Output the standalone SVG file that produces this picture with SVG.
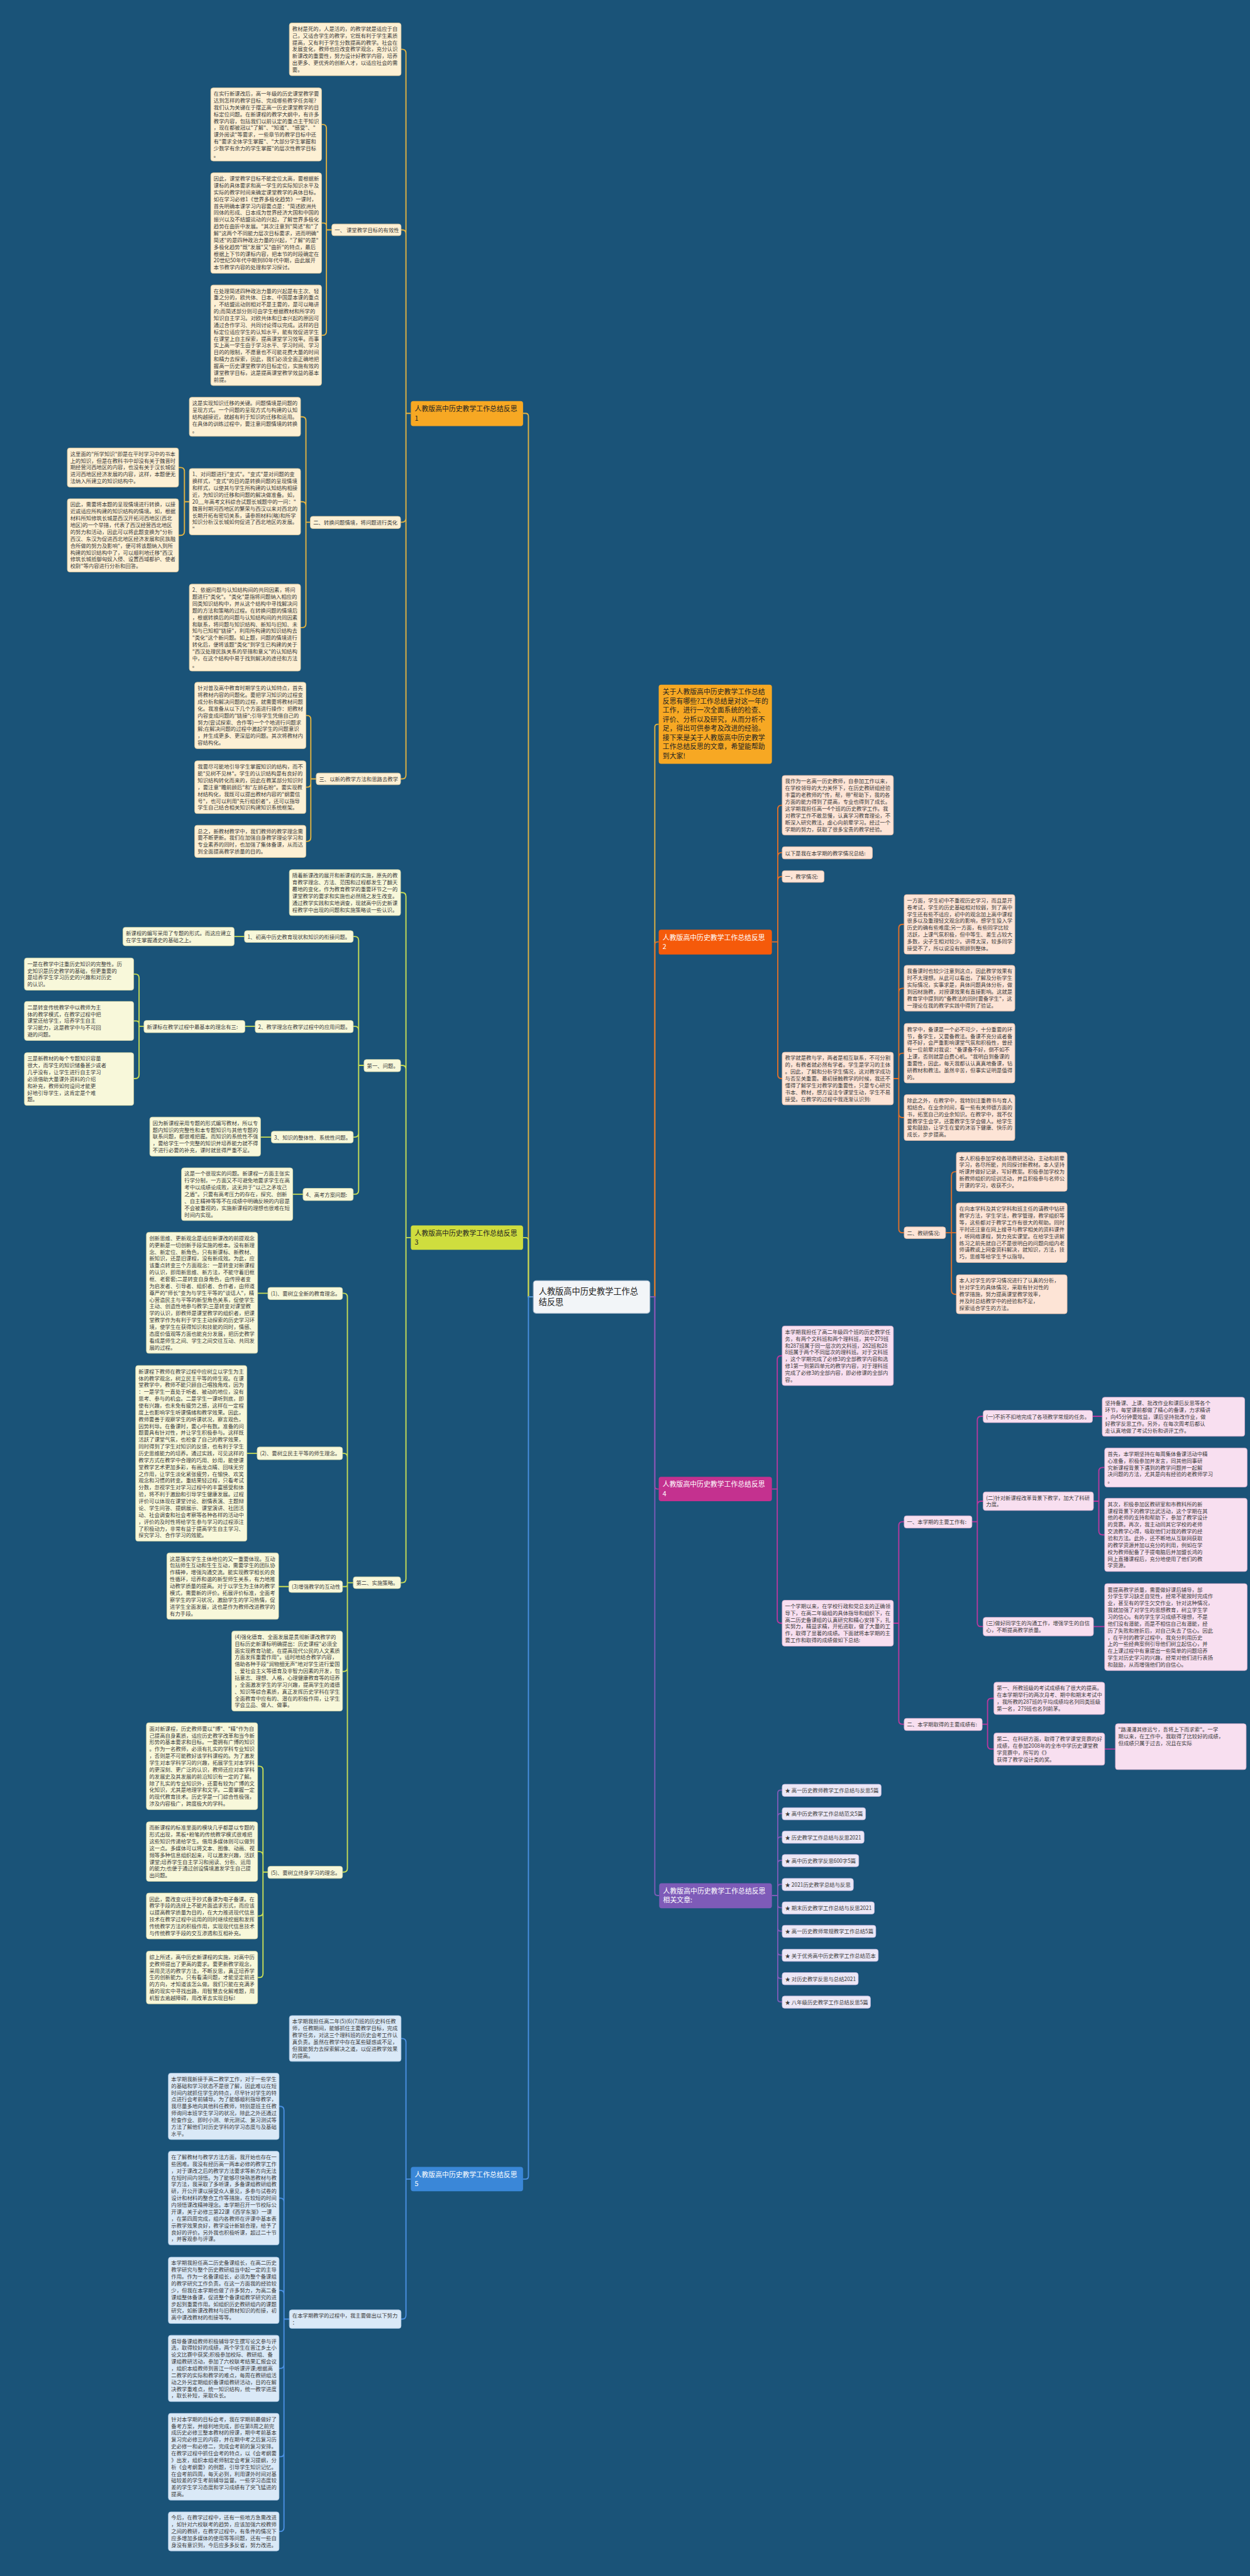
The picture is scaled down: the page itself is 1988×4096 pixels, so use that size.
<svg xmlns="http://www.w3.org/2000/svg" width="1988" height="4096" viewBox="0 0 1988 4096">
<style>
.t{font-family:"Noto Sans CJK SC","Noto Sans",sans-serif;font-size:10.8px;fill:#3a3a3a}
.tm{font-family:"Noto Sans CJK SC","Noto Sans",sans-serif;font-size:14px;fill:#222}
.tw{fill:#fff}
.c1{fill:#fdf0d4;stroke:#e2c99a;stroke-width:1}
.c2{fill:#fde4d6;stroke:#e6bba4;stroke-width:1}
.c3{fill:#f8f8da;stroke:#d8d8a8;stroke-width:1}
.c4{fill:#f8dff0;stroke:#ddb0cf;stroke-width:1}
.c5{fill:#dae9f7;stroke:#a9c6e2;stroke-width:1}
.c6{fill:#ece7f6;stroke:#c2b6de;stroke-width:1}
.k{fill:none;stroke-width:2.4}
.k1{stroke:#e3b341}.k2{stroke:#e0702a}.k3{stroke:#c9de55}.k4{stroke:#b8399e}.k5{stroke:#4a90e2}.k6{stroke:#7e5cb8}
</style>
<rect width="1988" height="4096" fill="#1a5378"/>
<g transform="scale(0.776)">
<g id="connectors">
<path class="k k1" d="M1093 2657H1083V853Q1083 847 1077 847H1072"/>
<path class="k k3" d="M1093 2657H1083V2542Q1083 2536 1077 2536H1072"/>
<path class="k k5" d="M1093 2657H1083V4459Q1083 4465 1077 4465H1072"/>
<path class="k k1" d="M1332 2657H1342V1490Q1342 1484 1348 1484H1350"/>
<path class="k k2" d="M1332 2657H1342V1936Q1342 1930 1348 1930H1350"/>
<path class="k k4" d="M1332 2657H1342V3045Q1342 3051 1348 3051H1350"/>
<path class="k k6" d="M1332 2657H1342V3878Q1342 3884 1348 3884H1351"/>
<path class="k k1" d="M842 847H832V109Q832 101 824 101H822M842 847H832V479Q832 471 824 471H822M842 847H832V1062Q832 1070 824 1070H821M842 847H832V1588Q832 1596 824 1596H821"/>
<path class="k k1" d="M680 471H669V263Q669 255 661 255H659M680 471H669V463Q669 457 663 457H659M680 471H669V679Q669 687 661 687H659"/>
<path class="k k1" d="M636 1070H627V862Q627 854 619 854H616M636 1070H627V1036Q627 1028 619 1028H616M636 1070H627V1278Q627 1286 619 1286H616"/>
<path class="k k1" d="M388 1028H378V966Q378 958 370 958H366M388 1028H378V1089Q378 1097 370 1097H366"/>
<path class="k k1" d="M648 1596H637V1474Q637 1466 629 1466H627M648 1596H637V1605Q637 1613 629 1613H627M648 1596H637V1716Q637 1724 629 1724H627"/>
<path class="k k3" d="M842 2536H832V1837Q832 1829 824 1829H821M842 2536H832V2191Q832 2183 824 2183H821M842 2536H832V3235Q832 3243 824 3243H821"/>
<path class="k k3" d="M746 2183H735V1927Q735 1919 727 1919H724M746 2183H735V2111Q735 2103 727 2103H724M746 2183H735V2322Q735 2330 727 2330H724M746 2183H735V2439Q735 2447 727 2447H724"/>
<path class="k k3" d="M501 1919H480M523 2103H502M556 2330H534M621 2447H600"/>
<path class="k k3" d="M295 2103H285V2004Q285 1996 277 1996H274M295 2103H285V2098Q285 2092 279 2092H274M295 2103H285V2202Q285 2210 277 2210H274"/>
<path class="k k3" d="M724 3243H712V2658Q712 2650 704 2650H702M724 3243H712V2986Q712 2978 704 2978H702M724 3243H712V3247Q712 3251 708 3251H702M724 3243H712V3417Q712 3425 704 3425H702M724 3243H712V3828Q712 3836 704 3836H702"/>
<path class="k k3" d="M549 2650H528M527 2978H506M592 3251H571"/>
<path class="k k3" d="M549 3836H539V3627Q539 3619 531 3619H528M549 3836H539V3802Q539 3794 531 3794H528M549 3836H539V3918Q539 3926 531 3926H528M549 3836H539V4044Q539 4052 531 4052H528"/>
<path class="k k5" d="M842 4465H832V4185Q832 4177 824 4177H822M842 4465H832V4744Q832 4752 824 4752H822"/>
<path class="k k5" d="M593 4752H582V4324Q582 4316 574 4316H572M593 4752H582V4512Q582 4504 574 4504H572M593 4752H582V4701Q582 4693 574 4693H572M593 4752H582V4845Q582 4853 574 4853H572M593 4752H582V5026Q582 5034 574 5034H572M593 4752H582V5179Q582 5187 574 5187H572"/>
<path class="k k2" d="M1582 1930H1594V1658Q1594 1650 1602 1650H1603M1582 1930H1594V1755Q1594 1747 1602 1747H1603M1582 1930H1594V1804Q1594 1796 1602 1796H1603M1582 1930H1594V2202Q1594 2210 1602 2210H1603"/>
<path class="k k2" d="M1831 2210H1842V1902Q1842 1894 1850 1894H1853M1831 2210H1842V2033Q1842 2025 1850 2025H1853M1831 2210H1842V2166Q1842 2158 1850 2158H1853M1831 2210H1842V2282Q1842 2290 1850 2290H1853M1831 2210H1842V2518Q1842 2526 1850 2526H1853"/>
<path class="k k2" d="M1938 2526H1950V2409Q1950 2401 1958 2401H1960M1938 2526H1960M1938 2526H1950V2644Q1950 2652 1958 2652H1960"/>
<path class="k k4" d="M1582 3051H1593V2786Q1593 2778 1601 2778H1603M1582 3051H1593V3318Q1593 3326 1601 3326H1603"/>
<path class="k k4" d="M1831 3326H1842V3126Q1842 3118 1850 3118H1853M1831 3326H1842V3525Q1842 3533 1850 3533H1853"/>
<path class="k k4" d="M1992 3118H2003V2910Q2003 2902 2011 2902H2015M1992 3118H2003V3084Q2003 3076 2011 3076H2015M1992 3118H2003V3325Q2003 3333 2011 3333H2015"/>
<path class="k k4" d="M2239 2902H2259M2241 3076H2252V3015Q2252 3007 2260 3007H2264M2241 3076H2252V3137Q2252 3145 2260 3145H2264M2241 3333H2264"/>
<path class="k k4" d="M2013 3533H2024V3488Q2024 3480 2032 3480H2037M2013 3533H2024V3576Q2024 3584 2032 3584H2037M2264 3584H2286"/>
<path class="k k6" d="M1582 3884H1594V3674Q1594 3668 1600 3668H1603M1582 3884H1594V3722Q1594 3716 1600 3716H1603M1582 3884H1594V3770Q1594 3764 1600 3764H1603M1582 3884H1594V3818Q1594 3812 1600 3812H1603M1582 3884H1594V3867Q1594 3861 1600 3861H1603M1582 3884H1594V3903Q1594 3909 1600 3909H1603M1582 3884H1594V3951Q1594 3957 1600 3957H1603M1582 3884H1594V4000Q1594 4006 1600 4006H1603M1582 3884H1594V4048Q1594 4054 1600 4054H1603M1582 3884H1594V4096Q1594 4102 1600 4102H1603"/>
</g>

<g id="center"><rect x="1093" y="2624" width="239" height="67" rx="6" fill="#f2f5f8" stroke="#9fb3c6" stroke-width="1.5"/><text class="tm" style="font-size:17px" x="1104" y="2652"><tspan x="1104">人教版高中历史教学工作总</tspan><tspan x="1104" dy="22">结反思</tspan></text></g>

<g id="fw1"><rect x="842" y="822" width="230" height="51" rx="5" fill="#f7a823"/><text class="tm" x="850" y="843"><tspan x="850">人教版高中历史教学工作总结反思</tspan><tspan x="850" dy="18.5">1</tspan></text></g>
<g id="fw3"><rect x="842" y="2511" width="230" height="50" rx="5" fill="#cfdd3e"/><text class="tm" x="850" y="2532"><tspan x="850">人教版高中历史教学工作总结反思</tspan><tspan x="850" dy="18.5">3</tspan></text></g>
<g id="fw5"><rect x="842" y="4440" width="230" height="50" rx="5" fill="#3a87d8"/><text class="tm tw" x="850" y="4461"><tspan x="850">人教版高中历史教学工作总结反思</tspan><tspan x="850" dy="18.5">5</tspan></text></g>
<g id="intro"><rect x="1350" y="1403" width="232" height="162" rx="5" fill="#f7a823"/><text class="tm" x="1358" y="1423"><tspan x="1358">关于人教版高中历史教学工作总结</tspan><tspan x="1358" dy="18.7">反思有哪些?工作总结是对这一年的</tspan><tspan x="1358" dy="18.7">工作，进行一次全面系统的检查、</tspan><tspan x="1358" dy="18.7">评价、分析以及研究，从而分析不</tspan><tspan x="1358" dy="18.7">足，得出可供参考及改进的经验。</tspan><tspan x="1358" dy="18.7">接下来是关于人教版高中历史教学</tspan><tspan x="1358" dy="18.7">工作总结反思的文章，希望能帮助</tspan><tspan x="1358" dy="18.7">到大家!</tspan></text></g>
<g id="fw2"><rect x="1350" y="1905" width="232" height="51" rx="5" fill="#f55a0a"/><text class="tm tw" x="1358" y="1926"><tspan x="1358">人教版高中历史教学工作总结反思</tspan><tspan x="1358" dy="18.5">2</tspan></text></g>
<g id="fw4"><rect x="1350" y="3026" width="232" height="50" rx="5" fill="#c4318f"/><text class="tm tw" x="1358" y="3047"><tspan x="1358">人教版高中历史教学工作总结反思</tspan><tspan x="1358" dy="18.5">4</tspan></text></g>
<g id="rel"><rect x="1351" y="3859" width="231" height="51" rx="5" fill="#7e5bb8"/><text class="tm tw" x="1359" y="3880"><tspan x="1359">人教版高中历史教学工作总结反思</tspan><tspan x="1359" dy="18.5">相关文章:</tspan></text></g>

<g id="a1"><rect class="c1" x="593" y="47" width="229" height="108" rx="5"/><text class="t" x="599" y="63"><tspan x="599">教材是死的，人是活的，的教学就是适应于自</tspan><tspan x="599" dy="14">己，又适合学生的教学，它既有利于学生素质</tspan><tspan x="599" dy="14">提高，又有利于学生分数提高的教学。社会在</tspan><tspan x="599" dy="14">发展变化，教师也应改变教学观念，充分认识</tspan><tspan x="599" dy="14">新课改的重要性，努力设计好教学内容，培养</tspan><tspan x="599" dy="14">出更多、更优秀的创新人才，以适应社会的需</tspan><tspan x="599" dy="14">要。</tspan></text></g>
<g id="n11"><rect class="c1" x="680" y="459" width="142" height="24" rx="5"/><text class="t" x="686" y="475.5">一、 课堂教学目标的有效性</text></g>
<g id="b1"><rect class="c1" x="432" y="180" width="227" height="150" rx="5"/><text class="t" x="438" y="196"><tspan x="438">在实行新课改后，高一年级的历史课堂教学要</tspan><tspan x="438" dy="14">达到怎样的教学目标、完成哪些教学任务呢?</tspan><tspan x="438" dy="14">我们认为关键在于摆正高一历史课堂教学的目</tspan><tspan x="438" dy="14">标定位问题。在新课程的教学大纲中，有许多</tspan><tspan x="438" dy="14">教学内容，包括我们以前认定的重点主干知识</tspan><tspan x="438" dy="14">，现在都被冠以"了解"、"知道"、"感受"、"</tspan><tspan x="438" dy="14">课外阅读"等要求，一些章节的教学目标中还</tspan><tspan x="438" dy="14">有"要求全体学生掌握"、"大部分学生掌握和</tspan><tspan x="438" dy="14">少数学有余力的学生掌握"的层次性教学目标</tspan><tspan x="438" dy="14">。</tspan></text></g>
<g id="b2"><rect class="c1" x="432" y="354" width="227" height="206" rx="5"/><text class="t" x="438" y="370"><tspan x="438">因此，课堂教学目标不能定位太高，要根据新</tspan><tspan x="438" dy="14">课标的具体要求和高一学生的实际知识水平及</tspan><tspan x="438" dy="14">实际的教学时间来确定课堂教学的具体目标。</tspan><tspan x="438" dy="14">如在学习必修1《世界多极化趋势》一课时，</tspan><tspan x="438" dy="14">首先明确本课学习内容要点是："简述欧洲共</tspan><tspan x="438" dy="14">同体的形成、日本成为世界经济大国和中国的</tspan><tspan x="438" dy="14">振兴以及不结盟运动的兴起，了解世界多极化</tspan><tspan x="438" dy="14">趋势在曲折中发展。"其次注意到"简述"和"了</tspan><tspan x="438" dy="14">解"这两个不同能力层次目标要求，进而明确"</tspan><tspan x="438" dy="14">简述"的是四种政治力量的兴起，"了解"的是"</tspan><tspan x="438" dy="14">多极化趋势"既"发展"又"曲折"的特点，最后</tspan><tspan x="438" dy="14">根据上下节的课标内容，把本节的时段确定在</tspan><tspan x="438" dy="14">20世纪50年代中期到80年代中期，由此展开</tspan><tspan x="438" dy="14">本节教学内容的处理和学习探讨。</tspan></text></g>
<g id="b3"><rect class="c1" x="432" y="584" width="227" height="206" rx="5"/><text class="t" x="438" y="600"><tspan x="438">在处理简述四种政治力量的兴起是有主次、轻</tspan><tspan x="438" dy="14">重之分的，欧共体、日本、中国是本课的重点</tspan><tspan x="438" dy="14">，不结盟运动则相对不是主要的，是可以略讲</tspan><tspan x="438" dy="14">的;而简述部分则可由学生根据教材和所学的</tspan><tspan x="438" dy="14">知识自主学习。对欧共体和日本兴起的原因可</tspan><tspan x="438" dy="14">通过合作学习、共同讨论得以完成。这样的目</tspan><tspan x="438" dy="14">标定位适应学生的认知水平，能有效促进学生</tspan><tspan x="438" dy="14">在课堂上自主探索，提高课堂学习效率。而事</tspan><tspan x="438" dy="14">实上高一学生由于学习水平、学习时间、学习</tspan><tspan x="438" dy="14">目的的限制，不愿意也不可能花费大量的时间</tspan><tspan x="438" dy="14">和精力去探索，因此，我们必须全面正确地把</tspan><tspan x="438" dy="14">握高一历史课堂教学的目标定位，实施有效的</tspan><tspan x="438" dy="14">课堂教学目标，这是提高课堂教学效益的基本</tspan><tspan x="438" dy="14">前提。</tspan></text></g>
<g id="n12"><rect class="c1" x="636" y="1058" width="185" height="25" rx="5"/><text class="t" x="642" y="1075">二、转换问题情境，将问题进行类化</text></g>
<g id="c1b"><rect class="c1" x="388" y="814" width="228" height="80" rx="5"/><text class="t" x="394" y="830"><tspan x="394">这是实现知识迁移的关键。问题情境是问题的</tspan><tspan x="394" dy="14">呈现方式。一个问题的呈现方式与构建的认知</tspan><tspan x="394" dy="14">结构越接近，就越有利于知识的迁移和运用。</tspan><tspan x="394" dy="14">在具体的训练过程中，要注意问题情境的转换</tspan><tspan x="394" dy="14">。</tspan></text></g>
<g id="c2b"><rect class="c1" x="388" y="960" width="228" height="136" rx="5"/><text class="t" x="394" y="976"><tspan x="394">1、对问题进行"变式"。"变式"是对问题的变</tspan><tspan x="394" dy="14">换样式，"变式"的目的是转换问题的呈现情境</tspan><tspan x="394" dy="14">和样式，以使其与学生所构建的认知结构相接</tspan><tspan x="394" dy="14">近，为知识的迁移和问题的解决做准备。如，</tspan><tspan x="394" dy="14">20__年高考文科综合试题长城题中的一问："</tspan><tspan x="394" dy="14">魏晋时期河西地区的繁荣与西汉以来对西北的</tspan><tspan x="394" dy="14">长期开拓有密切关系，请参照材料(略)和所学</tspan><tspan x="394" dy="14">知识分析汉长城如何促进了西北地区的发展。</tspan><tspan x="394" dy="14">"</tspan></text></g>
<g id="c3b"><rect class="c1" x="388" y="1197" width="228" height="178" rx="5"/><text class="t" x="394" y="1213"><tspan x="394">2、依据问题与认知结构间的共同因素，将问</tspan><tspan x="394" dy="14">题进行"类化"。"类化"是指将问题纳入相应的</tspan><tspan x="394" dy="14">同类知识结构中，并从这个结构中寻找解决问</tspan><tspan x="394" dy="14">题的方法和策略的过程。在转换问题的情境后</tspan><tspan x="394" dy="14">，根据转换后的问题与认知结构间的共同因素</tspan><tspan x="394" dy="14">和联系，将问题与知识结构、新知与旧知、未</tspan><tspan x="394" dy="14">知与已知相"链接"，利用所构建的知识结构去</tspan><tspan x="394" dy="14">"类化"这个新问题。如上题，问题的情境进行</tspan><tspan x="394" dy="14">转化后，便将该题"类化"到学生已构建的关于</tspan><tspan x="394" dy="14">"西汉处理民族关系的举措和意义"的认知结构</tspan><tspan x="394" dy="14">中，在这个结构中易于找到解决的途径和方法</tspan><tspan x="394" dy="14">。</tspan></text></g>
<g id="d1"><rect class="c1" x="138" y="918" width="228" height="80" rx="5"/><text class="t" x="144" y="934"><tspan x="144">这里面的"所学知识"即是在平时学习中的书本</tspan><tspan x="144" dy="14">上的知识，但是在教科书中却没有关于魏晋时</tspan><tspan x="144" dy="14">期经营河西地区的内容，也没有关于汉长城促</tspan><tspan x="144" dy="14">进河西地区经济发展的内容，这样，本题便无</tspan><tspan x="144" dy="14">法纳入所建立的知识结构中。</tspan></text></g>
<g id="d2"><rect class="c1" x="138" y="1022" width="228" height="150" rx="5"/><text class="t" x="144" y="1038"><tspan x="144">因此，需要将本题的呈现情境进行转换，以接</tspan><tspan x="144" dy="14">近或适应所构建的知识结构的情境。如，根据</tspan><tspan x="144" dy="14">材料所知修筑长城是西汉开拓河西地区(西北</tspan><tspan x="144" dy="14">地区)的一个举措，代表了西汉经营西北地区</tspan><tspan x="144" dy="14">的努力和活动，因此可以将此题变换为"分析</tspan><tspan x="144" dy="14">西汉、东汉为促进西北地区经济发展和民族融</tspan><tspan x="144" dy="14">合所做的努力及影响"，便可将该题纳入到所</tspan><tspan x="144" dy="14">构建的知识结构中了，可以顺利地迁移"西汉</tspan><tspan x="144" dy="14">修筑长城抵御匈奴入侵、设置西域都护、使者</tspan><tspan x="144" dy="14">校尉"等内容进行分析和回答。</tspan></text></g>
<g id="n13"><rect class="c1" x="648" y="1584" width="173" height="24" rx="5"/><text class="t" x="654" y="1600.5">三、以新的教学方法和思路去教学</text></g>
<g id="e1"><rect class="c1" x="399" y="1398" width="228" height="136" rx="5"/><text class="t" x="405" y="1414"><tspan x="405">针对普及高中教育时期学生的认知特点，首先</tspan><tspan x="405" dy="14">将教材内容的问题化。要把学习知识的过程变</tspan><tspan x="405" dy="14">成分析和解决问题的过程，就需要将教材问题</tspan><tspan x="405" dy="14">化。我准备从以下几个方面进行操作：把教材</tspan><tspan x="405" dy="14">内容变成问题的"链接";引导学生凭借自己的</tspan><tspan x="405" dy="14">努力(尝试探索、合作等)一个个地进行问题求</tspan><tspan x="405" dy="14">解;在解决问题的过程中激起学生的问题意识</tspan><tspan x="405" dy="14">，并生成更多、更深层的问题。其次将教材内</tspan><tspan x="405" dy="14">容结构化。</tspan></text></g>
<g id="e2"><rect class="c1" x="399" y="1559" width="228" height="108" rx="5"/><text class="t" x="405" y="1575"><tspan x="405">我要尽可能地引导学生掌握知识的结构，而不</tspan><tspan x="405" dy="14">能"见树不见林"。学生的认识结构是有良好的</tspan><tspan x="405" dy="14">知识结构转化而来的，因此在教某部分知识时</tspan><tspan x="405" dy="14">，要注意"瞻前顾后"和"左顾右盼"。要实现教</tspan><tspan x="405" dy="14">材结构化，我既可以提出教材内容的"纲要信</tspan><tspan x="405" dy="14">号"，也可以利用"先行组织者"，还可以指导</tspan><tspan x="405" dy="14">学生自己结合相关知识构建知识系统框架。</tspan></text></g>
<g id="e3"><rect class="c1" x="399" y="1691" width="228" height="66" rx="5"/><text class="t" x="405" y="1707"><tspan x="405">总之，新教材教学中，我们教师的教学理念需</tspan><tspan x="405" dy="14">要不断更新。我们在加强自身教学理论学习和</tspan><tspan x="405" dy="14">专业素养的同时，也加强了集体备课，从而达</tspan><tspan x="405" dy="14">到全面提高教学质量的目的。</tspan></text></g>

<g id="f0"><rect class="c3" x="593" y="1782" width="228" height="94" rx="5"/><text class="t" x="599" y="1798"><tspan x="599">随着新课改的展开和新课程的实施，原先的教</tspan><tspan x="599" dy="14">育教学理念、方法、范围和过程都发生了翻天</tspan><tspan x="599" dy="14">覆地的变化，作为教育教学的重要环节之一的</tspan><tspan x="599" dy="14">课堂教学的要求和实施也必然随之发生改变。</tspan><tspan x="599" dy="14">通过教学实践和实地调查，现就高中历史新课</tspan><tspan x="599" dy="14">程教学中出现的问题和实施策略谈一些认识。</tspan></text></g>
<g id="n31"><rect class="c3" x="746" y="2171" width="75" height="25" rx="5"/><text class="t" x="752" y="2188">第一、问题。</text></g>
<g id="n311"><rect class="c3" x="501" y="1907" width="223" height="24" rx="5"/><text class="t" x="507" y="1923.5">1、初高中历史教育现状和知识的衔接问题。</text></g>
<g id="f1"><rect class="c3" x="252" y="1900" width="228" height="38" rx="5"/><text class="t" x="258" y="1916"><tspan x="258">新课程的编写采用了专题的形式。而这应建立</tspan><tspan x="258" dy="14">在学生掌握通史的基础之上。</tspan></text></g>
<g id="n312"><rect class="c3" x="523" y="2091" width="201" height="25" rx="5"/><text class="t" x="529" y="2108">2、教学理念在教学过程中的应用问题。</text></g>
<g id="n3121"><rect class="c3" x="295" y="2091" width="207" height="25" rx="5"/><text class="t" x="301" y="2108">新课标在教学过程中最基本的理念有三:</text></g>
<g id="l1"><rect class="c3" x="50" y="1963" width="224" height="66" rx="5"/><text class="t" x="56" y="1979"><tspan x="56">一是在教学中注重历史知识的完整性。历</tspan><tspan x="56" dy="14">史知识是历史教学的基础，但更重要的</tspan><tspan x="56" dy="14">是培养学生学习历史的兴趣和对历史</tspan><tspan x="56" dy="14">的认识。</tspan></text></g>
<g id="l2"><rect class="c3" x="50" y="2052" width="224" height="80" rx="5"/><text class="t" x="56" y="2068"><tspan x="56">二是转变传统教学中以教师为主</tspan><tspan x="56" dy="14">体的教学模式，在教学过程中把</tspan><tspan x="56" dy="14">课堂还给学生，培养学生自主</tspan><tspan x="56" dy="14">学习能力，这是教学中与不可回</tspan><tspan x="56" dy="14">避的问题。</tspan></text></g>
<g id="l3"><rect class="c3" x="50" y="2157" width="224" height="108" rx="5"/><text class="t" x="56" y="2173"><tspan x="56">三是新教材的每个专题知识容量</tspan><tspan x="56" dy="14">很大，而学生的知识储备甚少或者</tspan><tspan x="56" dy="14">几乎没有，让学生进行自主学习</tspan><tspan x="56" dy="14">必须借助大量课外资料的介绍</tspan><tspan x="56" dy="14">和补充，教师如何设问才能更</tspan><tspan x="56" dy="14">好地引导学生，这肯定是个难</tspan><tspan x="56" dy="14">题。</tspan></text></g>
<g id="n313"><rect class="c3" x="556" y="2318" width="168" height="24" rx="5"/><text class="t" x="562" y="2334.5">3、知识的整体性、系统性问题。</text></g>
<g id="f3"><rect class="c3" x="307" y="2289" width="227" height="80" rx="5"/><text class="t" x="313" y="2305"><tspan x="313">因为新课程采用专题的形式编写教材，所以专</tspan><tspan x="313" dy="14">题内知识的完整性和本专题知识与其他专题的</tspan><tspan x="313" dy="14">联系问题，都很难把握。而知识的系统性不强</tspan><tspan x="313" dy="14">，要给学生一个完整的知识并培养能力就不得</tspan><tspan x="313" dy="14">不进行必要的补充，课时就显得严重不足。</tspan></text></g>
<g id="n314"><rect class="c3" x="621" y="2435" width="103" height="25" rx="5"/><text class="t" x="627" y="2452">4、高考方案问题:</text></g>
<g id="f4"><rect class="c3" x="372" y="2393" width="228" height="108" rx="5"/><text class="t" x="378" y="2409"><tspan x="378">这是一个很现实的问题。新课程一方面主张实</tspan><tspan x="378" dy="14">行学分制，一方面又不可避免地要求学生在高</tspan><tspan x="378" dy="14">考中以成绩论成败，这无异于"以己之矛攻己</tspan><tspan x="378" dy="14">之盾"。只要有高考压力的存在，探究、创新</tspan><tspan x="378" dy="14">、自主精神等等不在成绩中明确反映的内容是</tspan><tspan x="378" dy="14">不会被重视的，实施新课程的理想也很难在短</tspan><tspan x="378" dy="14">时间内实现。</tspan></text></g>
<g id="n32"><rect class="c3" x="724" y="3231" width="97" height="24" rx="5"/><text class="t" x="730" y="3247.5">第二、实施策略。</text></g>
<g id="n321"><rect class="c3" x="549" y="2638" width="153" height="25" rx="5"/><text class="t" x="555" y="2655">(1)、要树立全新的教育理念。</text></g>
<g id="g1"><rect class="c3" x="300" y="2525" width="228" height="248" rx="5"/><text class="t" x="306" y="2541"><tspan x="306">创新思维、更新观念是适应新课改的前提观念</tspan><tspan x="306" dy="14">的更新是一切创新手段实施的根本。没有新理</tspan><tspan x="306" dy="14">念、新定位、新角色，只有新课标、新教材、</tspan><tspan x="306" dy="14">新知识，还是旧课程，没有新成效。为此，应</tspan><tspan x="306" dy="14">该重点转变三个方面观念：一是转变对新课程</tspan><tspan x="306" dy="14">的认识，即用新思维、新方法，不能守着旧框</tspan><tspan x="306" dy="14">框、老套套;二是转变自身角色，由传授者变</tspan><tspan x="306" dy="14">为启发者、引导者、组织者、合作者，由师道</tspan><tspan x="306" dy="14">尊严的"师长"变为与学生平等的"谈话人"，精</tspan><tspan x="306" dy="14">心营造民主与平等的新型角色关系，促使学生</tspan><tspan x="306" dy="14">主动、创造性地参与教学;三是转变对课堂教</tspan><tspan x="306" dy="14">学的认识，即教师是课堂教学的组织者，把课</tspan><tspan x="306" dy="14">堂教学作为有利于学生主动探索的历史学习环</tspan><tspan x="306" dy="14">境，使学生在获得知识和技能的同时，情感、</tspan><tspan x="306" dy="14">态度价值观等方面也能充分发展，把历史教学</tspan><tspan x="306" dy="14">看成是师生之间、学生之间交往互动、共同发</tspan><tspan x="306" dy="14">展的过程。</tspan></text></g>
<g id="n322"><rect class="c3" x="527" y="2965" width="175" height="26" rx="5"/><text class="t" x="533" y="2982">(2)、要树立民主平等的师生理念。</text></g>
<g id="g2"><rect class="c3" x="278" y="2798" width="228" height="360" rx="5"/><text class="t" x="284" y="2814"><tspan x="284">新课程下教师在教学过程中应树立以学生为主</tspan><tspan x="284" dy="14">体的教学观念，树立民主平等的师生观。在课</tspan><tspan x="284" dy="14">堂教学中，教师不能只顾自己唱独角戏，因为</tspan><tspan x="284" dy="14">：一是学生一直处于听者、被动的地位，没有</tspan><tspan x="284" dy="14">思考、参与的机会。二是学生一课听到底，即</tspan><tspan x="284" dy="14">使有兴趣，也未免有疲劳之感，这样在一定程</tspan><tspan x="284" dy="14">度上也影响学生听课情绪和教学效果。因此，</tspan><tspan x="284" dy="14">教师要善于观察学生的听课状况，察言观色，</tspan><tspan x="284" dy="14">因势利导。在备课时，要心中有数。准备的问</tspan><tspan x="284" dy="14">题要具有针对性，并让学生积极参与。这样既</tspan><tspan x="284" dy="14">活跃了课堂气氛，也检查了自己的教学效果，</tspan><tspan x="284" dy="14">同时得到了学生对知识的反馈，也有利于学生</tspan><tspan x="284" dy="14">历史思维能力的培养。通过实践，可见这样的</tspan><tspan x="284" dy="14">教学方式在教学中合理的巧用、妙用，能使课</tspan><tspan x="284" dy="14">堂教学艺术更加多彩，有画龙点睛、回味无穷</tspan><tspan x="284" dy="14">之作用，让学生淡化紧张疲劳，在愉快、欢笑</tspan><tspan x="284" dy="14">观念和习惯的转变。重结果轻过程，只看考试</tspan><tspan x="284" dy="14">分数，忽视学生对学习过程中的丰富感受和体</tspan><tspan x="284" dy="14">验，将不利于激励和引导学生健康发展。过程</tspan><tspan x="284" dy="14">评价可以体现在课堂讨论、剧情表演、主题辩</tspan><tspan x="284" dy="14">论、学生问答、提纲展示、课堂演讲、社团活</tspan><tspan x="284" dy="14">动、社会调查和社会考察等各种各样的活动中</tspan><tspan x="284" dy="14">，评价的及时性将给学生参与学习的过程添注</tspan><tspan x="284" dy="14">了积极动力，非常有益于提高学生自主学习、</tspan><tspan x="284" dy="14">探究学习、合作学习的效能。</tspan></text></g>
<g id="n323"><rect class="c3" x="592" y="3239" width="110" height="24" rx="5"/><text class="t" x="598" y="3255.5">(3)增强教学的互动性</text></g>
<g id="g3"><rect class="c3" x="342" y="3182" width="229" height="136" rx="5"/><text class="t" x="348" y="3198"><tspan x="348">这是落实学生主体地位的又一重要体现。互动</tspan><tspan x="348" dy="14">包括师生互动和生生互动，需要学生的团队协</tspan><tspan x="348" dy="14">作精神，增强沟通交流。能实现教学相长的良</tspan><tspan x="348" dy="14">性循环，培养和谐的新型师生关系，有力地推</tspan><tspan x="348" dy="14">动教学质量的提高。对于以学生为主体的教学</tspan><tspan x="348" dy="14">模式，需要新的评价。拓展评价标准，全面考</tspan><tspan x="348" dy="14">察学生的学习状况，激励学生的学习热情，促</tspan><tspan x="348" dy="14">进学生全面发展，这也是作为教师改进教学的</tspan><tspan x="348" dy="14">有力手段。</tspan></text></g>
<g id="g4"><rect class="c3" x="475" y="3342" width="227" height="164" rx="5"/><text class="t" x="481" y="3358"><tspan x="481">(4)强化德育、全面发展是贯彻新课改教学的</tspan><tspan x="481" dy="14">目标历史新课标明确提出：历史课程"必须全</tspan><tspan x="481" dy="14">面实现教育功能，在提高现代公民的人文素质</tspan><tspan x="481" dy="14">方面发挥重要作用"。适时地结合教学内容，</tspan><tspan x="481" dy="14">借助各种手段"润物细无声"地对学生进行爱国</tspan><tspan x="481" dy="14">、爱社会主义等德育及非智力因素的开发，包</tspan><tspan x="481" dy="14">括意志、理想、人格，心理健康教育等的培养</tspan><tspan x="481" dy="14">，全面激发学生的学习兴趣，提高学生的道德</tspan><tspan x="481" dy="14">、知识等综合素质，真正发挥历史学科在学生</tspan><tspan x="481" dy="14">全面教育中应有的、潜在的积极作用，让学生</tspan><tspan x="481" dy="14">学会立品、做人、做事。</tspan></text></g>
<g id="n325"><rect class="c3" x="549" y="3824" width="153" height="25" rx="5"/><text class="t" x="555" y="3841">(5)、要树立终身学习的理念。</text></g>
<g id="k1b"><rect class="c3" x="300" y="3530" width="228" height="178" rx="5"/><text class="t" x="306" y="3546"><tspan x="306">面对新课程，历史教师要以"博"、"精"作为自</tspan><tspan x="306" dy="14">己提高自身素质，适应历史教学改革和当今新</tspan><tspan x="306" dy="14">形势的基本要求和目标。一要拥有广博的知识</tspan><tspan x="306" dy="14">。作为一名教师，必须有扎实的学科专业知识</tspan><tspan x="306" dy="14">，否则是不可能教好该学科课程的。为了激发</tspan><tspan x="306" dy="14">学生对本学科学习的兴趣，拓展学生对本学科</tspan><tspan x="306" dy="14">的更深刻、更广泛的认识，教师还应对本学科</tspan><tspan x="306" dy="14">的发展史及其发展的前沿知识有一定的了解。</tspan><tspan x="306" dy="14">除了扎实的专业知识外，还要有较为广博的文</tspan><tspan x="306" dy="14">化知识，尤其是地理学和文学。二要掌握一定</tspan><tspan x="306" dy="14">的现代教育技术。历史学是一门综合性极强，</tspan><tspan x="306" dy="14">涉及内容极广，跨度极大的学科。</tspan></text></g>
<g id="k2b"><rect class="c3" x="300" y="3733" width="228" height="122" rx="5"/><text class="t" x="306" y="3749"><tspan x="306">而新课程的标准里面的模块几乎都是以专题的</tspan><tspan x="306" dy="14">形式出现，黑板+粉笔的传统教学模式很难把</tspan><tspan x="306" dy="14">这些知识传递给学生。借用多媒体则可以做到</tspan><tspan x="306" dy="14">这一点。多媒体可以将文本、图像、动画、视</tspan><tspan x="306" dy="14">频等多种信息组织起来，可以激发兴趣，活跃</tspan><tspan x="306" dy="14">课堂;培养学生自主学习和阅读、分析、运用</tspan><tspan x="306" dy="14">的能力;也便于通过创设情境激发学生自己提</tspan><tspan x="306" dy="14">出问题。</tspan></text></g>
<g id="k3b"><rect class="c3" x="300" y="3879" width="228" height="94" rx="5"/><text class="t" x="306" y="3895"><tspan x="306">因此，要改变以往手抄式备课为电子备课。在</tspan><tspan x="306" dy="14">教学手段的选择上不能片面追求形式，而应该</tspan><tspan x="306" dy="14">以提高教学质量为目的，在大力推进现代信息</tspan><tspan x="306" dy="14">技术在教学过程中运用的同时继续挖掘和发挥</tspan><tspan x="306" dy="14">传统教学方法的积极作用，实现现代信息技术</tspan><tspan x="306" dy="14">与传统教学手段的交互渗透和互相补充。</tspan></text></g>
<g id="k4b"><rect class="c3" x="300" y="3998" width="228" height="108" rx="5"/><text class="t" x="306" y="4014"><tspan x="306">综上所述，高中历史新课程的实施，对高中历</tspan><tspan x="306" dy="14">史教师提出了更高的要求。要更新教学观念，</tspan><tspan x="306" dy="14">采用灵活的教学方法，不断反思，真正培养学</tspan><tspan x="306" dy="14">生的创新能力。只有看清问题，才能坚定前进</tspan><tspan x="306" dy="14">的方向，才知道该怎么做。我们只能在充满矛</tspan><tspan x="306" dy="14">盾的现实中寻找出路，用智慧去化解难题，用</tspan><tspan x="306" dy="14">机智去逾越障碍，用改革去实现目标!</tspan></text></g>

<g id="h0"><rect class="c5" x="593" y="4130" width="229" height="94" rx="5"/><text class="t" x="599" y="4146"><tspan x="599">本学期我担任高二年(5)(6)(7)班的历史科任教</tspan><tspan x="599" dy="14">师，任教期间，能够抓住主要教学目标，完成</tspan><tspan x="599" dy="14">教学任务，对这三个理科班的历史会考工作认</tspan><tspan x="599" dy="14">真负责。虽然在教学中存在某些疑惑或不足，</tspan><tspan x="599" dy="14">但我能努力去探索解决之道，以促进教学效果</tspan><tspan x="599" dy="14">的提高。</tspan></text></g>
<g id="n51"><rect class="c5" x="593" y="4733" width="229" height="38" rx="5"/><text class="t" x="599" y="4749"><tspan x="599">在本学期教学的过程中，我主要做出以下努力</tspan><tspan x="599" dy="14">：</tspan></text></g>
<g id="h1"><rect class="c5" x="345" y="4248" width="227" height="136" rx="5"/><text class="t" x="351" y="4264"><tspan x="351">本学期我新接手高二教学工作，对于一些学生</tspan><tspan x="351" dy="14">的基础和学习状态不是很了解，因此难以在短</tspan><tspan x="351" dy="14">时间内就抓住学生的特点，尽早针对学生的特</tspan><tspan x="351" dy="14">点进行会考前辅导。为了能够顺利指导教学，</tspan><tspan x="351" dy="14">我尽量多地向其他科任教师，特别是班主任教</tspan><tspan x="351" dy="14">师询问本班学生学习的状况，除此之外还通过</tspan><tspan x="351" dy="14">检查作业、即时小测、单元测试、复习测试等</tspan><tspan x="351" dy="14">方法了解他们对历史学科的学习态度与及基础</tspan><tspan x="351" dy="14">水平。</tspan></text></g>
<g id="h2"><rect class="c5" x="345" y="4408" width="227" height="192" rx="5"/><text class="t" x="351" y="4424"><tspan x="351">在了解教材与教学方法方面，我开始也存在一</tspan><tspan x="351" dy="14">些困难。我没有经历高一两本必修的教学工作</tspan><tspan x="351" dy="14">，对于课改之后的教学方法要求等新方向无法</tspan><tspan x="351" dy="14">在短时间内领悟。为了能够尽快熟悉教材与教</tspan><tspan x="351" dy="14">学方法，我采取了多听课，多备课组教研组教</tspan><tspan x="351" dy="14">研，开公开课以接受众人意见，多参与试卷的</tspan><tspan x="351" dy="14">设计和材料的整合工作等措施，在较短的时间</tspan><tspan x="351" dy="14">内领悟课改精神理念。本学期召开一节校际公</tspan><tspan x="351" dy="14">开课，关于必修三第22课《西学东渐》一课</tspan><tspan x="351" dy="14">，在第四周完成，组内各教师在评课中基本表</tspan><tspan x="351" dy="14">示教学效果良好，教学设计新颖合理，给予了</tspan><tspan x="351" dy="14">良好的评价。另外我也积极听课，超过二十节</tspan><tspan x="351" dy="14">，并客观参与评课。</tspan></text></g>
<g id="h3"><rect class="c5" x="345" y="4625" width="227" height="136" rx="5"/><text class="t" x="351" y="4641"><tspan x="351">本学期我担任高二历史备课组长，在高二历史</tspan><tspan x="351" dy="14">教学研究与整个历史教研组当中起一定的主导</tspan><tspan x="351" dy="14">作用。作为一名备课组长，必须为整个备课组</tspan><tspan x="351" dy="14">的教学研究工作负责。在这一方面我的经验较</tspan><tspan x="351" dy="14">少，但我在本学期也做了许多努力，为高二备</tspan><tspan x="351" dy="14">课组整体备课，促进整个备课组教学研究的进</tspan><tspan x="351" dy="14">步起到重要作用。如组织历史教研组内的课题</tspan><tspan x="351" dy="14">研究，如新课改教材与旧教材知识的衔接，初</tspan><tspan x="351" dy="14">高中课改教材的衔接等等。</tspan></text></g>
<g id="h4"><rect class="c5" x="345" y="4785" width="227" height="136" rx="5"/><text class="t" x="351" y="4801"><tspan x="351">倡导备课组教师积极辅导学生撰写论文参与评</tspan><tspan x="351" dy="14">选，取得较好的成绩，两个学生在晋江乡土小</tspan><tspan x="351" dy="14">论文比赛中获奖;积极参加校际、教研组、备</tspan><tspan x="351" dy="14">课组教研活动，参加了六校联考结果汇报会议</tspan><tspan x="351" dy="14">，组织本组教师到晋江一中听课评课;根据高</tspan><tspan x="351" dy="14">二教学的实际和教学的难点，每周在教研组活</tspan><tspan x="351" dy="14">动之外另定期组织备课组教研活动，目的在解</tspan><tspan x="351" dy="14">决教学重难点，统一知识结构，统一教学进度</tspan><tspan x="351" dy="14">，取长补短，采取众长。</tspan></text></g>
<g id="h5"><rect class="c5" x="345" y="4945" width="227" height="178" rx="5"/><text class="t" x="351" y="4961"><tspan x="351">针对本学期的目标会考，我在学期前最做好了</tspan><tspan x="351" dy="14">备考方案，并顺利地完成，即在第8周之前完</tspan><tspan x="351" dy="14">成历史必修三整本教材的授课，期中考前基本</tspan><tspan x="351" dy="14">复习完必修三的内容，并在期中考之后复习历</tspan><tspan x="351" dy="14">史必修一和必修二，完成会考前的复习安排。</tspan><tspan x="351" dy="14">在教学过程中抓住会考的特点，以《会考纲要</tspan><tspan x="351" dy="14">》出发，组织本组老师制定会考复习提纲，分</tspan><tspan x="351" dy="14">析《会考纲要》的例题，引导学生知识记忆。</tspan><tspan x="351" dy="14">在会考前四周，每天必到，利用课外时间对基</tspan><tspan x="351" dy="14">础较差的学生考前辅导监督。一些学习态度较</tspan><tspan x="351" dy="14">差的学生学习态度和学习成绩有了突飞猛进的</tspan><tspan x="351" dy="14">提高。</tspan></text></g>
<g id="h6"><rect class="c5" x="345" y="5147" width="227" height="80" rx="5"/><text class="t" x="351" y="5163"><tspan x="351">今后，在教学过程中，还有一些地方急需改进</tspan><tspan x="351" dy="14">，如针对六校联考的趋势，应该加强六校教师</tspan><tspan x="351" dy="14">之间的教研，在教学过程中，有条件的情况下</tspan><tspan x="351" dy="14">应多增加多媒体的使用等等问题，还有一些自</tspan><tspan x="351" dy="14">身没有意识到，今后应多多反省，努力改进。</tspan></text></g>

<g id="r2"><rect class="c2" x="1603" y="1589" width="228" height="122" rx="5"/><text class="t" x="1609" y="1605"><tspan x="1609">我作为一名高一历史教师，自参加工作以来，</tspan><tspan x="1609" dy="14">在学校领导的大力关怀下，在历史教研组经验</tspan><tspan x="1609" dy="14">丰富的老教师的"传，帮，带"帮助下，我的各</tspan><tspan x="1609" dy="14">方面的能力得到了提高，专业也得到了成长。</tspan><tspan x="1609" dy="14">这学期我担任高一4个班的历史教学工作。我</tspan><tspan x="1609" dy="14">对教学工作不敢怠慢，认真学习教育理论，不</tspan><tspan x="1609" dy="14">断深入研究教法，虚心向前辈学习。经过一个</tspan><tspan x="1609" dy="14">学期的努力，获取了很多宝贵的教学经验。</tspan></text></g>
<g id="n21"><rect class="c2" x="1603" y="1735" width="185" height="25" rx="5"/><text class="t" x="1609" y="1752">以下是我在本学期的教学情况总结:</text></g>
<g id="n22"><rect class="c2" x="1603" y="1784" width="86" height="24" rx="5"/><text class="t" x="1609" y="1800.5">一，教学情况:</text></g>
<g id="r3"><rect class="c2" x="1603" y="2156" width="228" height="108" rx="5"/><text class="t" x="1609" y="2172"><tspan x="1609">教学就是教与学，两者是相互联系，不可分割</tspan><tspan x="1609" dy="14">的，有教者就必然有学者。学生是学习的主体</tspan><tspan x="1609" dy="14">。因此，了解和分析学生情况，这对教学成功</tspan><tspan x="1609" dy="14">与否至关重要。最初接触教学的时候，我还不</tspan><tspan x="1609" dy="14">懂得了解学生对教学的重要性，只是专心研究</tspan><tspan x="1609" dy="14">书本、教材，想方设法令课堂生动，学生不易</tspan><tspan x="1609" dy="14">接受。在教学的过程中我逐渐认识到:</tspan></text></g>
<g id="s1"><rect class="c2" x="1853" y="1833" width="227" height="122" rx="5"/><text class="t" x="1859" y="1849"><tspan x="1859">一方面，学生初中不重视历史学习，而且是开</tspan><tspan x="1859" dy="14">卷考试，学生的历史基础相对较弱，到了高中</tspan><tspan x="1859" dy="14">学生还有些不适应，初中的观念加上高中课程</tspan><tspan x="1859" dy="14">很多以及重理轻文观念的影响，想学生投入学</tspan><tspan x="1859" dy="14">历史的确有些难度;另一方面，有些同学比较</tspan><tspan x="1859" dy="14">活跃，上课气氛积极，但中等生、差生占较大</tspan><tspan x="1859" dy="14">多数，尖子生相对较少。讲得太深，较多同学</tspan><tspan x="1859" dy="14">接受不了，所以说没有照顾到整体。</tspan></text></g>
<g id="s2"><rect class="c2" x="1853" y="1978" width="227" height="94" rx="5"/><text class="t" x="1859" y="1994"><tspan x="1859">我备课时也较少注意到这点，因此教学效果有</tspan><tspan x="1859" dy="14">时不太理想。从此可以看出，了解及分析学生</tspan><tspan x="1859" dy="14">实际情况，实事求是，具体问题具体分析，做</tspan><tspan x="1859" dy="14">到因材施教，对授课效果有直接影响。这就是</tspan><tspan x="1859" dy="14">教育学中提到的"备教法的同时要备学生"，这</tspan><tspan x="1859" dy="14">一理论在我的教学实践中得到了验证。</tspan></text></g>
<g id="s3"><rect class="c2" x="1853" y="2097" width="227" height="122" rx="5"/><text class="t" x="1859" y="2113"><tspan x="1859">教学中，备课是一个必不可少，十分重要的环</tspan><tspan x="1859" dy="14">节，备学生，又要备教法。备课不充分或者备</tspan><tspan x="1859" dy="14">得不好，会严重影响课堂气氛和积极性，曾经</tspan><tspan x="1859" dy="14">有一位前辈对我说："备课备不好，倒不如不</tspan><tspan x="1859" dy="14">上课，否则就是白费心机。"我明白到备课的</tspan><tspan x="1859" dy="14">重要性，因此，每天我都认认真真地备课，钻</tspan><tspan x="1859" dy="14">研教材和教法。虽然辛苦，但事实证明是值得</tspan><tspan x="1859" dy="14">的。</tspan></text></g>
<g id="s4"><rect class="c2" x="1853" y="2243" width="227" height="94" rx="5"/><text class="t" x="1859" y="2259"><tspan x="1859">除此之外，在教学中，我特别注重教书与育人</tspan><tspan x="1859" dy="14">相结合。在业余时间，看一些有关师德方面的</tspan><tspan x="1859" dy="14">书，拓宽自己的业余知识。在教学中，我不仅</tspan><tspan x="1859" dy="14">要教学生会学，还要教学生学会做人。给学生</tspan><tspan x="1859" dy="14">爱和鼓励，让学生在爱的沐浴下健康、快乐的</tspan><tspan x="1859" dy="14">成长，步步提高。</tspan></text></g>
<g id="n23"><rect class="c2" x="1853" y="2514" width="85" height="24" rx="5"/><text class="t" x="1859" y="2530.5">二、教研情况:</text></g>
<g id="t1"><rect class="c2" x="1960" y="2361" width="227" height="80" rx="5"/><text class="t" x="1966" y="2377"><tspan x="1966">本人积极参加学校各项教研活动，主动和前辈</tspan><tspan x="1966" dy="14">学习，各尽所能，共同探讨新教材。本人坚持</tspan><tspan x="1966" dy="14">听课并做好记录，写好教案。积极参加学校为</tspan><tspan x="1966" dy="14">新教师组织的培训活动，并且积极参与名师公</tspan><tspan x="1966" dy="14">开课的学习，收获不少。</tspan></text></g>
<g id="t2"><rect class="c2" x="1960" y="2465" width="227" height="122" rx="5"/><text class="t" x="1966" y="2481"><tspan x="1966">在向本学科及其它学科和班主任的请教中钻研</tspan><tspan x="1966" dy="14">教学方法，学生学法，教学管理，教学组织等</tspan><tspan x="1966" dy="14">等，这些都对于教学工作有很大的帮助。同时</tspan><tspan x="1966" dy="14">平时还注意在网上搜寻与教学相关的资料课件</tspan><tspan x="1966" dy="14">，听网络课程，努力充实课堂。在给学生讲解</tspan><tspan x="1966" dy="14">练习之前先就自己不是很明白的问题向组内老</tspan><tspan x="1966" dy="14">师请教或上网查资料解决，就知识，方法，技</tspan><tspan x="1966" dy="14">巧，思维等给学生予以指导。</tspan></text></g>
<g id="t3"><rect class="c2" x="1960" y="2612" width="227" height="80" rx="5"/><text class="t" x="1966" y="2628"><tspan x="1966">本人对学生的学习情况进行了认真的分析，</tspan><tspan x="1966" dy="14">针对学生的具体情况，采取有针对性的</tspan><tspan x="1966" dy="14">教学措施，努力提高课堂教学效率，</tspan><tspan x="1966" dy="14">并及时总结教学中的经验和不足，</tspan><tspan x="1966" dy="14">探索适合学生的方法。</tspan></text></g>

<g id="u1"><rect class="c4" x="1603" y="2717" width="228" height="122" rx="5"/><text class="t" x="1609" y="2733"><tspan x="1609">本学期我担任了高二年级四个班的历史教学任</tspan><tspan x="1609" dy="14">务，有两个文科班和两个理科班，其中279班</tspan><tspan x="1609" dy="14">和287班属于同一层次的文科班，282班和28</tspan><tspan x="1609" dy="14">8班属于两个不同层次的理科班。对于文科班</tspan><tspan x="1609" dy="14">，这个学期完成了必修3的全部教学内容和选</tspan><tspan x="1609" dy="14">修1第一到第四单元的教学内容，对于理科班</tspan><tspan x="1609" dy="14">完成了必修3的全部内容，即必修课的全部内</tspan><tspan x="1609" dy="14">容。</tspan></text></g>
<g id="u2"><rect class="c4" x="1603" y="3279" width="228" height="94" rx="5"/><text class="t" x="1609" y="3295"><tspan x="1609">一个学期以来，在学校行政和党总支的正确领</tspan><tspan x="1609" dy="14">导下，在高二年级组的具体指导和组织下，在</tspan><tspan x="1609" dy="14">高二历史备课组的认真研究和精心安排下，扎</tspan><tspan x="1609" dy="14">实努力，精益求精，开拓进取，做了大量的工</tspan><tspan x="1609" dy="14">作，取得了显著的成绩。下面就将本学期的主</tspan><tspan x="1609" dy="14">要工作和取得的成绩做如下总结:</tspan></text></g>
<g id="n41"><rect class="c4" x="1853" y="3106" width="139" height="25" rx="5"/><text class="t" x="1859" y="3123">一、本学期的主要工作有:</text></g>
<g id="n42"><rect class="c4" x="1853" y="3521" width="160" height="25" rx="5"/><text class="t" x="1859" y="3538">二、本学期取得的主要成绩有:</text></g>
<g id="n411"><rect class="c4" x="2015" y="2890" width="224" height="25" rx="5"/><text class="t" x="2021" y="2907">(一)不折不扣地完成了各项教学常规的任务。</text></g>
<g id="n412"><rect class="c4" x="2015" y="3057" width="226" height="38" rx="5"/><text class="t" x="2021" y="3073"><tspan x="2021">(二)针对新课程改革背景下教学，加大了科研</tspan><tspan x="2021" dy="14">力度。</tspan></text></g>
<g id="n413"><rect class="c4" x="2015" y="3314" width="226" height="38" rx="5"/><text class="t" x="2021" y="3330"><tspan x="2021">(三)做好同学生的沟通工作，增强学生的自信</tspan><tspan x="2021" dy="14">心，不断提高教学质量。</tspan></text></g>
<g id="v1"><rect class="c4" x="2259" y="2863" width="292" height="80" rx="5"/><text class="t" x="2265" y="2879"><tspan x="2265">坚持备课、上课、批改作业和课后反思等各个</tspan><tspan x="2265" dy="14">环节，每堂课前都做了精心的备课，力求精讲</tspan><tspan x="2265" dy="14">，向45分钟要效益，课后坚持批改作业，做</tspan><tspan x="2265" dy="14">好教学反思工作。另外，在每次周考后都认</tspan><tspan x="2265" dy="14">走认真地做了考试分析和讲评工作。</tspan></text></g>
<g id="v2"><rect class="c4" x="2264" y="2967" width="292" height="80" rx="5"/><text class="t" x="2270" y="2983"><tspan x="2270">首先，本学期坚持在每周集体备课活动中精</tspan><tspan x="2270" dy="14">心准备，积极参加并发言，同其他同事研</tspan><tspan x="2270" dy="14">究新课程背景下遇到的教学问题并一起解</tspan><tspan x="2270" dy="14">决问题的方法，尤其是向有经验的老教师学习</tspan><tspan x="2270" dy="14">。</tspan></text></g>
<g id="v3"><rect class="c4" x="2264" y="3070" width="292" height="150" rx="5"/><text class="t" x="2270" y="3086"><tspan x="2270">其次，积极参加区教研室和市教科所的新</tspan><tspan x="2270" dy="14">课程背景下的教学比武活动，这个学期在其</tspan><tspan x="2270" dy="14">他的老师的支持和帮助下，参加了教学设计</tspan><tspan x="2270" dy="14">的竞赛。再次，我主动同其它学校的老师</tspan><tspan x="2270" dy="14">交流教学心得，吸取他们对我的教学的经</tspan><tspan x="2270" dy="14">验和方法。此外，还不断地从互联网获取</tspan><tspan x="2270" dy="14">的教学资源并加以充分的利用，例如在学</tspan><tspan x="2270" dy="14">校为教师配备了手提电脑后并加盟长鸿的</tspan><tspan x="2270" dy="14">网上直播课程后，充分地使用了他们的教</tspan><tspan x="2270" dy="14">学资源。</tspan></text></g>
<g id="v4"><rect class="c4" x="2264" y="3245" width="292" height="178" rx="5"/><text class="t" x="2270" y="3261"><tspan x="2270">要提高教学质量，需要做好课后辅导，部</tspan><tspan x="2270" dy="14">分学生学习缺乏自觉性，经常不能按时完成作</tspan><tspan x="2270" dy="14">业，甚至有的学生欠交作业，针对这种情况，</tspan><tspan x="2270" dy="14">我就加强了对学生的思想教育，树立学生学</tspan><tspan x="2270" dy="14">习的信心。有的学生学习成绩不理想，不是</tspan><tspan x="2270" dy="14">他们没有潜能，而是不相信自己有潜能，经</tspan><tspan x="2270" dy="14">历了失败和挫折后，对自己失去了信心。因此</tspan><tspan x="2270" dy="14">，在平时的教学过程中，我充分利用历史</tspan><tspan x="2270" dy="14">上的一些经典案例引导他们树立起信心，并</tspan><tspan x="2270" dy="14">在上课过程中有意提出一些简单的问题培养</tspan><tspan x="2270" dy="14">学生对历史学习的兴趣，经常对他们进行表扬</tspan><tspan x="2270" dy="14">和鼓励，从而增强他们的自信心。</tspan></text></g>
<g id="w1"><rect class="c4" x="2037" y="3447" width="227" height="66" rx="5"/><text class="t" x="2043" y="3463"><tspan x="2043">第一、所教班级的考试成绩有了很大的提高。</tspan><tspan x="2043" dy="14">在本学期举行的两次月考、期中和期末考试中</tspan><tspan x="2043" dy="14">，我所教的287班的平均成绩均名列同类班级</tspan><tspan x="2043" dy="14">第一名，279班也名列前茅。</tspan></text></g>
<g id="w2"><rect class="c4" x="2037" y="3551" width="227" height="66" rx="5"/><text class="t" x="2043" y="3567"><tspan x="2043">第二、在科研方面，取得了教学课堂竞赛的好</tspan><tspan x="2043" dy="14">成绩，在参加2008年的全市中学历史课堂教</tspan><tspan x="2043" dy="14">学竞赛中，所写的《》</tspan><tspan x="2043" dy="14">获得了教学设计类的奖。</tspan></text></g>
<g id="w3"><rect class="c4" x="2286" y="3532" width="268" height="94" rx="5"/><text class="t" x="2292" y="3548"><tspan x="2292">"路漫漫其修远兮，吾将上下而求索"。一学</tspan><tspan x="2292" dy="14">期以来，在工作中，我取得了比较好的成绩，</tspan><tspan x="2292" dy="14">但成绩只属于过去，况且在实际</tspan></text></g>

<g id="rl1"><rect class="c6" x="1603" y="3656" width="203" height="25" rx="5"/><text class="t" x="1609" y="3673">★ 高一历史教师教学工作总结与反思5篇</text></g>
<g id="rl2"><rect class="c6" x="1603" y="3704" width="171" height="25" rx="5"/><text class="t" x="1609" y="3721">★ 高中历史教学工作总结范文5篇</text></g>
<g id="rl3"><rect class="c6" x="1603" y="3752" width="168" height="25" rx="5"/><text class="t" x="1609" y="3769">★ 历史教学工作总结与反思2021</text></g>
<g id="rl4"><rect class="c6" x="1603" y="3800" width="157" height="25" rx="5"/><text class="t" x="1609" y="3817">★ 高中历史教学反思600字5篇</text></g>
<g id="rl5"><rect class="c6" x="1603" y="3849" width="146" height="25" rx="5"/><text class="t" x="1609" y="3866">★ 2021历史教学总结与反思</text></g>
<g id="rl6"><rect class="c6" x="1603" y="3897" width="189" height="25" rx="5"/><text class="t" x="1609" y="3914">★ 期末历史教学工作总结与反思2021</text></g>
<g id="rl7"><rect class="c6" x="1603" y="3945" width="192" height="25" rx="5"/><text class="t" x="1609" y="3962">★ 高一历史教师常规教学工作总结5篇</text></g>
<g id="rl8"><rect class="c6" x="1603" y="3994" width="197" height="25" rx="5"/><text class="t" x="1609" y="4011">★ 关于优秀高中历史教学工作总结范本</text></g>
<g id="rl9"><rect class="c6" x="1603" y="4042" width="156" height="25" rx="5"/><text class="t" x="1609" y="4059">★ 对历史教学反思与总结2021</text></g>
<g id="rl10"><rect class="c6" x="1603" y="4090" width="181" height="25" rx="5"/><text class="t" x="1609" y="4107">★ 八年级历史教学工作总结反思5篇</text></g>
</g>
</svg>
